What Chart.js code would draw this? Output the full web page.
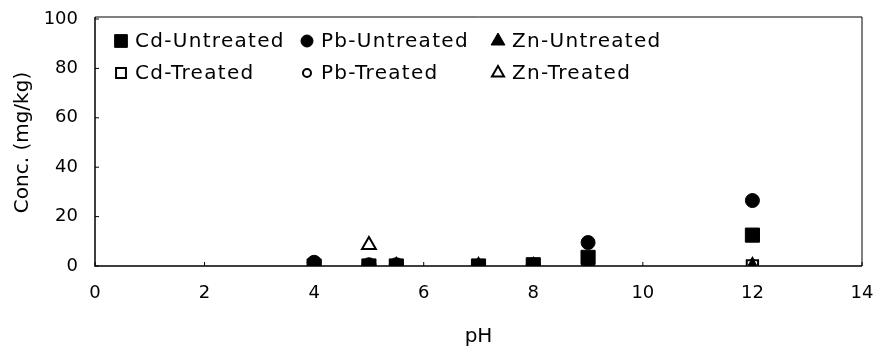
<!DOCTYPE html>
<html>
<head>
<meta charset="utf-8">
<script src="https://cdn.jsdelivr.net/npm/chart.js@4.4.0/dist/chart.umd.min.js"></script>
<style>
  html, body { margin: 0; padding: 0; background: #fff; }
  #wrap { width: 876px; height: 349px; position: relative; }
</style>
</head>
<body>
<div id="wrap"><canvas id="mychart"></canvas></div>
<script>
// pH values where samples were taken
const phValues = [4, 5, 5.5, 7, 8, 9, 12];

// concentrations (mg/kg)
const cdUntreated = [0, 0, 0, 0, 0.5, 3.5, 12.5];
const pbUntreated = [1.5, 0.5, 0.5, 0, 0.5, 9.5, 26.5];
const znUntreated = [0, 0, 0, 0, 0, 0, 0];
const cdTreated = [0, 0, 0, 0, 0, 0, 0];
const pbTreated = [0, 0, 0, 0, 0, 0, 0];
const znTreated = [0, 8.5, 0, 0, 0, 0, 0];

const xTicks = [0, 2, 4, 6, 8, 10, 12, 14];
const yTicks = [0, 20, 40, 60, 80, 100];

const FONT = "'DejaVu Sans', sans-serif";

const toPoints = (vals) => phValues.map((ph, i) => ({ x: ph, y: vals[i] }));

/**
 * Untreated first so they end up drawn on top.
 */
const datasets = [
    { label: 'Cd-Untreated', data: toPoints(cdUntreated), pointStyle: 'rect', pointRadius: 10, backgroundColor: '#000', borderColor: '#000', borderWidth: 1 },
    { label: 'Pb-Untreated', data: toPoints(pbUntreated), pointStyle: 'circle', pointRadius: 7, backgroundColor: '#000', borderColor: '#000', borderWidth: 1 },
    { label: 'Zn-Untreated', data: toPoints(znUntreated), pointStyle: 'triangle', pointRadius: 8, backgroundColor: '#000', borderColor: '#000', borderWidth: 1 },
    { label: 'Cd-Treated', data: toPoints(cdTreated), pointStyle: 'rect', pointRadius: 8, backgroundColor: '#fff', borderColor: '#000', borderWidth: 2 },
    { label: 'Pb-Treated', data: toPoints(pbTreated), pointStyle: 'circle', pointRadius: 5, backgroundColor: '#fff', borderColor: '#000', borderWidth: 2 },
    { label: 'Zn-Treated', data: toPoints(znTreated), pointStyle: 'triangle', pointRadius: 8, backgroundColor: '#fff', borderColor: '#000', borderWidth: 2 }
];

// legend grid: 3 columns x 2 rows inside the plot
const legendCols = [26, 212, 403];
const legendRows = [22, 54];
const legendSizes = [
    { r: 9, w: 1 }, { r: 6, w: 1 }, { r: 8, w: 1 },
    { r: 7, w: 2 }, { r: 4, w: 2 }, { r: 7, w: 2 }
];

const legendPlugin = {
    id: 'gridLegend',
    afterDraw(chart) {
        const ctx = chart.ctx;
        const area = chart.chartArea;
        ctx.save();
        ctx.font = '20px ' + FONT;
        ctx.textBaseline = 'middle';
        ctx.textAlign = 'left';
        chart.data.datasets.forEach((ds, i) => {
            const col = i % 3;
            const row = Math.floor(i / 3);
            const x = area.left + legendCols[col];
            const y = area.top + legendRows[row];
            ctx.fillStyle = ds.backgroundColor;
            ctx.strokeStyle = ds.borderColor;
            ctx.lineWidth = legendSizes[i].w;
            ctx.letterSpacing = '0px';
            Chart.helpers.drawPoint(ctx, {
                pointStyle: ds.pointStyle,
                radius: legendSizes[i].r,
                rotation: 0,
                borderWidth: legendSizes[i].w
            }, x, y);
            ctx.fillStyle = '#000';
            // the original lettering is set a bit wider
            ctx.letterSpacing = '1.3px';
            ctx.fillText(ds.label, x + 14, y + 1);
        });
        ctx.restore();
    }
};

const framePlugin = {
    id: 'frame',
    beforeDatasetsDraw(chart) {
        const ctx = chart.ctx;
        const a = chart.chartArea;
        const xs = chart.scales.x;
        const ys = chart.scales.y;
        ctx.save();
        ctx.strokeStyle = '#000';
        ctx.lineWidth = 1;
        ctx.beginPath();
        ctx.moveTo(a.left, a.top - 2);
        ctx.lineTo(a.right, a.top - 2);
        ctx.lineTo(a.right, a.bottom);
        ctx.stroke();
        ctx.lineWidth = 1.5;
        ctx.beginPath();
        ctx.moveTo(a.left, a.top - 2);
        ctx.lineTo(a.left, a.bottom);
        ctx.lineTo(a.right, a.bottom);
        ctx.stroke();
        // small inward tick marks
        ctx.lineWidth = 1;
        ctx.beginPath();
        xTicks.forEach((v) => {
            const px = xs.getPixelForValue(v);
            ctx.moveTo(px, a.bottom);
            ctx.lineTo(px, a.bottom - 4);
        });
        yTicks.forEach((v) => {
            const py = ys.getPixelForValue(v);
            ctx.moveTo(a.left, py);
            ctx.lineTo(a.left + 4, py);
        });
        ctx.stroke();
        ctx.restore();
    }
};

const ctx = document.getElementById('mychart').getContext('2d');

let mychart = new Chart(ctx, {
    type: 'scatter',
    data: { datasets },
    plugins: [framePlugin, legendPlugin],
    options: {
        responsive: true,
        maintainAspectRatio: false,
        animation: false,
        layout: { padding: { top: 19, right: 14, bottom: 0, left: 0 } },
        plugins: {
            legend: { display: false },
            tooltip: { enabled: false }
        },
        scales: {
            x: {
                type: 'linear',
                min: 0,
                max: 14,
                afterBuildTicks: (scale) => { scale.ticks = xTicks.map((v) => ({ value: v })); },
                afterFit: (scale) => {
                    scale.height = 83;
                    scale.paddingLeft = 0;
                    scale.paddingRight = 0;
                },
                grid: { display: false, drawTicks: false },
                border: { display: false },
                ticks: { color: '#000', padding: 17, font: { family: FONT, size: 18 } },
                title: { display: true, text: 'pH', color: '#000', padding: { top: 0, bottom: 0 }, font: { family: FONT, size: 20 } }
            },
            y: {
                type: 'linear',
                min: 0,
                max: 100,
                afterBuildTicks: (scale) => { scale.ticks = yTicks.map((v) => ({ value: v })); },
                afterFit: (scale) => {
                    scale.width = 95;
                    scale.paddingTop = 0;
                    scale.paddingBottom = 0;
                },
                grid: { display: false, drawTicks: false },
                border: { display: false },
                ticks: { color: '#000', padding: 17, font: { family: FONT, size: 18 } },
                title: { display: true, text: 'Conc. (mg/kg)', color: '#000', padding: { top: 11, bottom: 0 }, font: { family: FONT, size: 20 } }
            }
        }
    }
});
</script>
</body>
</html>
